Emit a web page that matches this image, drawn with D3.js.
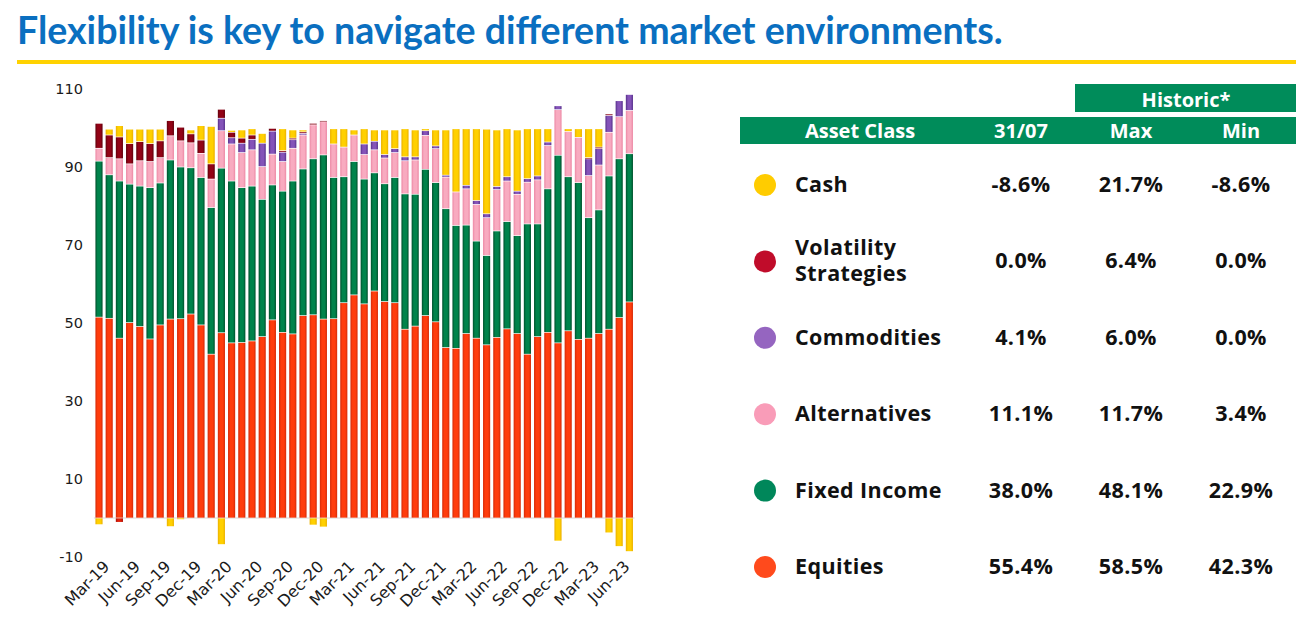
<!DOCTYPE html>
<html>
<head>
<meta charset="utf-8">
<script src="https://cdn.jsdelivr.net/npm/d3@7"></script>
<style>
  body { margin: 0; background: #fff; }
  svg { display: block; }
  .tick text { fill: #1a1a1a; }
</style>
</head>
<body>
<div id="viz"></div>
<script>
// month labels, one per bar
var months = ["Mar-19","Apr-19","May-19","Jun-19","Jul-19","Aug-19","Sep-19","Oct-19","Nov-19","Dec-19",
  "Jan-20","Feb-20","Mar-20","Apr-20","May-20","Jun-20","Jul-20","Aug-20","Sep-20","Oct-20","Nov-20","Dec-20",
  "Jan-21","Feb-21","Mar-21","Apr-21","May-21","Jun-21","Jul-21","Aug-21","Sep-21","Oct-21","Nov-21","Dec-21",
  "Jan-22","Feb-22","Mar-22","Apr-22","May-22","Jun-22","Jul-22","Aug-22","Sep-22","Oct-22","Nov-22","Dec-22",
  "Jan-23","Feb-23","Mar-23","Apr-23","May-23","Jun-23","Jul-23"];

var equities = [51.5,51.2,46.1,50.1,49.1,45.9,49.5,51.0,51.1,52.3,49.5,42.0,47.5,44.9,45.0,45.4,46.5,50.8,47.6,47.2,51.9,52.1,
  51.0,51.1,55.2,57.2,54.9,58.2,55.5,55.2,48.4,49.2,51.9,50.3,43.7,43.5,47.3,46.1,44.4,46.3,48.5,47.3,42.0,46.5,47.6,44.9,
  48.0,45.8,46.1,47.3,48.4,51.4,55.4];
var fixedIncome = [40.0,36.8,40.3,35.5,36.0,38.8,36.4,40.8,38.9,37.5,37.8,37.6,42.2,41.5,39.7,39.7,35.2,34.6,36.2,39.2,37.6,40.0,
  42.1,36.2,32.3,34.2,32.0,30.3,30.2,32.1,34.7,33.8,37.5,35.7,35.6,31.5,27.8,24.9,22.9,27.3,27.5,25.1,33.4,28.9,36.8,48.1,
  39.5,40.2,30.9,31.7,39.3,40.7,38.0];
var alternatives = [3.3,4.4,5.7,5.2,6.5,6.7,6.5,6.2,6.7,6.4,6.2,7.3,9.6,9.5,9.0,9.3,8.4,7.9,7.6,8.4,8.7,8.7,
  8.5,8.6,7.6,6.8,6.3,5.9,6.6,6.4,8.5,8.8,8.7,8.7,8.1,8.6,9.3,9.4,9.7,10.6,10.4,10.6,10.7,11.3,11.1,11.7,
  11.6,11.6,10.8,11.5,11.2,10.8,11.1];
var commodities = [0,0,0,0,0,0,0,0,0,0,0,0,3.2,1.6,2.4,2.7,6.0,5.9,2.4,2.2,0.4,0,
  0,0,0,0,2.7,2.2,0.9,1.0,1.0,0.8,1.2,0.7,0.5,0,0.9,1.0,1.0,0.8,1.1,0.8,0.9,1.0,0.9,1.0,
  0,0,4.3,4.2,4.3,4.1,4.1];
var volatility = [6.4,5.8,5.6,5.2,4.9,4.6,4.3,3.9,3.5,2.3,3.4,3.9,2.3,1.4,1.3,1.1,0,0.7,0.4,0.4,0.4,0.4,
  0.3,0,0,0,0,0,0,0,0,0,0,0,0,0,0,0,0,0,0,0,0,0,0,0,
  0,0,0.3,0.4,0.4,0,0];
var cash = [-1.7,1.5,2.9,3.7,3.2,3.7,3.0,-2.2,-0.4,1.0,3.7,9.6,-6.8,0.5,2.1,1.6,2.5,0,5.6,2.1,0.5,-1.8,
  -2.3,3.9,4.7,1.3,3.9,2.9,6.3,4.8,7.2,6.9,0.5,4.1,11.6,16.2,14.5,18.4,21.7,14.5,12.3,15.7,12.8,12.1,3.4,-5.9,
  0.7,2.2,7.4,4.7,-3.8,-7.3,-8.6];
// small unlabelled negative sliver seen in May-19
var other = [0,0,-1.1,0,0,0,0,0,0,0,0,0,0,0,0,0,0,0,0,0,0,0,
  0,0,0,0,0,0,0,0,0,0,0,0,0,0,0,0,0,0,0,0,0,0,0,0,
  0,0,0,0,0,0,0];

var yTicks = [-10, 10, 30, 50, 70, 90, 110];

// table on the right
var assetClasses = ["Cash", "Volatility Strategies", "Commodities", "Alternatives", "Fixed Income", "Equities"];
var latest = ["-8.6%", "0.0%", "4.1%", "11.1%", "38.0%", "55.4%"];
var histMax = ["21.7%", "6.4%", "6.0%", "11.7%", "48.1%", "58.5%"];
var histMin = ["-8.6%", "0.0%", "0.0%", "3.4%", "22.9%", "42.3%"];

var keys = ["equities", "fixedIncome", "alternatives", "commodities", "volatility", "cash", "other"];
var barColors = {
  equities:     ["#d42a08", "#ff3c0c"],
  fixedIncome:  ["#004f2b", "#00834b"],
  alternatives: ["#ec88a4", "#f8abc0"],
  commodities:  ["#552f8a", "#8453b8"],
  volatility:   ["#60000b", "#920316"],
  cash:         ["#eab000", "#ffd000"],
  other:        ["#a80e06", "#e0200a"]
};
var dotColors = ["#ffcc00", "#c00c2a", "#9565c0", "#f99cb8", "#00875a", "#ff4a1c"];

var table = months.map(function (m, i) {
  return {
    month: m, equities: equities[i], fixedIncome: fixedIncome[i], alternatives: alternatives[i],
    commodities: commodities[i], volatility: volatility[i], cash: cash[i], other: other[i]
  };
});

const W = 1305, H = 632;
var svg = d3.select("#viz").append("svg")
  .attr("width", W)
  .attr("height", H);

var defs = svg.append("defs");
keys.forEach(function (k) {
  var g = defs.append("linearGradient").attr("id", "grad-" + k)
    .attr("x1", 0).attr("x2", 1).attr("y1", 0).attr("y2", 0);
  g.append("stop").attr("offset", "0%").attr("stop-color", barColors[k][0]);
  g.append("stop").attr("offset", "30%").attr("stop-color", barColors[k][1]);
  g.append("stop").attr("offset", "70%").attr("stop-color", barColors[k][1]);
  g.append("stop").attr("offset", "100%").attr("stop-color", barColors[k][0]);
});

// title + yellow rule
var title = svg.append("text")
  .attr("x", 17)
  .attr("y", 44)
  .style("font-family", "Lato, 'Open Sans', sans-serif")
  .style("font-weight", 700)
  .style("font-size", "31px")
  .style("fill", "#0a6fc0")
  .text("Flexibility is key to navigate different market environments.");
var tw = title.node().getComputedTextLength();
title.style("font-size", (31 * 986 / tw) + "px");

svg.append("rect")
  .attr("x", 17).attr("y", 60)
  .attr("width", 1279).attr("height", 4)
  .attr("fill", "#ffd200");

// chart
var x = d3.scaleBand()
  .domain(months)
  .range([93.9, 634.5])
  .paddingInner(0.3)
  .paddingOuter(0.15);

var y = d3.scaleLinear()
  .domain([-10, 110])
  .range([557, 89]);

var stack = d3.stack().keys(keys).offset(d3.stackOffsetDiverging);
var series = stack(table);

svg.append("line")
  .attr("x1", x.range()[0]).attr("x2", x.range()[1])
  .attr("y1", y(0)).attr("y2", y(0))
  .attr("stroke", "#d6d6d6").attr("stroke-width", 1);

var layer = svg.append("g").selectAll("g")
  .data(series)
  .enter().append("g")
  .attr("fill", function (d) { return "url(#grad-" + d.key + ")"; });

layer.selectAll("rect")
  .data(function (d) { return d.filter(function (p) { return p[1] !== p[0]; }); })
  .enter().append("rect")
  .attr("x", function (d) { return x(d.data.month); })
  .attr("width", x.bandwidth())
  .attr("y", function (d) { return y(Math.max(d[0], d[1])) + 0.35; })
  .attr("height", function (d) { return Math.max(0.6, Math.abs(y(d[0]) - y(d[1])) - 0.7); });

// y axis, labels only
var yAxis = svg.append("g")
  .attr("transform", "translate(83,0)")
  .call(d3.axisLeft(y).tickValues(yTicks).tickSize(0).tickPadding(0)
    .tickFormat(function (d) { return String(d); }));
yAxis.select(".domain").remove();
yAxis.selectAll("text")
  .style("font-family", "'DejaVu Sans', Verdana, sans-serif")
  .style("font-size", "14.5px");

// x axis, every third month
var xAxis = svg.append("g")
  .attr("transform", "translate(0," + 560 + ")")
  .call(d3.axisBottom(x)
    .tickValues(months.filter(function (m, i) { return i % 3 === 0; }))
    .tickSize(0));
xAxis.select(".domain").remove();
xAxis.selectAll("text")
  .style("font-family", "'DejaVu Sans', Verdana, sans-serif")
  .style("font-size", "16px")
  .attr("text-anchor", "end")
  .attr("dy", "0.3em")
  .attr("transform", "translate(6,2) rotate(-45)");

// table
var tbl = svg.append("g")
  .style("font-family", "'Open Sans', Arial, sans-serif")
  .style("font-weight", 700);

tbl.append("rect").attr("x", 1075).attr("y", 84).attr("width", 221).attr("height", 28).attr("fill", "#008c5a");
tbl.append("rect").attr("x", 740).attr("y", 117).attr("width", 556).attr("height", 27).attr("fill", "#008c5a");

tbl.append("text").attr("x", 1186).attr("y", 107).attr("text-anchor", "middle")
  .style("font-size", "20px").style("fill", "#fff").text("Historic*");

var headCols = [
  { t: "Asset Class", x: 860 },
  { t: "31/07", x: 1021 },
  { t: "Max", x: 1131 },
  { t: "Min", x: 1241 }
];
tbl.selectAll(".head").data(headCols).enter().append("text")
  .attr("class", "head")
  .attr("x", function (d) { return d.x; })
  .attr("y", 138)
  .attr("text-anchor", "middle")
  .style("font-size", "20px").style("fill", "#fff")
  .text(function (d) { return d.t; });

var rowY = d3.scalePoint().domain(assetClasses).range([184, 566]);

var rows = tbl.selectAll(".row").data(assetClasses).enter().append("g")
  .attr("class", "row")
  .attr("transform", function (d) { return "translate(0," + rowY(d) + ")"; });

rows.append("circle")
  .attr("cx", 765).attr("cy", 1).attr("r", 11)
  .attr("fill", function (d, i) { return dotColors[i]; });

rows.append("text")
  .attr("x", 795)
  .style("font-size", "21.5px").style("letter-spacing", "0.4px").style("fill", "#111")
  .each(function (d) {
    var words = d === "Volatility Strategies" ? ["Volatility", "Strategies"] : [d];
    var t = d3.select(this);
    words.forEach(function (w, j) {
      t.append("tspan").attr("x", 795)
        .attr("y", words.length === 1 ? 8 : (j === 0 ? -5.5 : 21))
        .text(w);
    });
  });

[latest, histMax, histMin].forEach(function (col, c) {
  rows.append("text")
    .attr("x", [1021, 1131, 1241][c])
    .attr("y", 8)
    .attr("text-anchor", "middle")
    .style("font-size", "21.5px").style("letter-spacing", "0.4px").style("fill", "#111")
    .text(function (d, i) { return col[i]; });
});
</script>
</body>
</html>
